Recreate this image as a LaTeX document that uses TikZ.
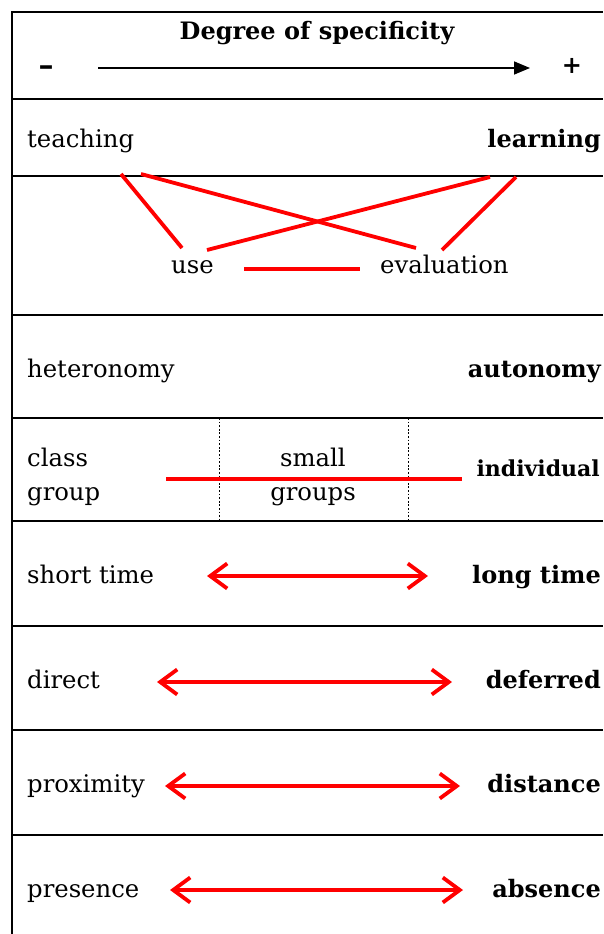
\documentclass[tikz,border=0pt]{standalone}
\usepackage{fontspec}
\setmainfont{DejaVu Serif}
\usetikzlibrary{arrows.meta}
\begin{document}
\begin{tikzpicture}[x=1pt,y=-1pt,
  frame/.style={line width=2pt, black},
  redline/.style={line width=3.8pt, red},
  dbl/.style={line width=3.8pt, red, {Straight Barb[length=17pt,width=25pt]}-{Straight Barb[length=17pt,width=25pt]}},
  lab/.style={inner sep=0pt, font=\fontsize{24.3}{28}\selectfont},
  blab/.style={inner sep=0pt, font=\fontsize{24}{28}\selectfont\bfseries},
  sblab/.style={inner sep=0pt, font=\fontsize{22}{26}\selectfont\bfseries},
  sep/.style={line width=0.8pt, dash pattern=on 1.8pt off 1.8pt},
]
\useasboundingbox (0,0) rectangle (603,934);
% frame
\draw[frame] (12,934) -- (12,12) -- (603,12);
\foreach \y in {99,176,315,418,521,626,730,835}
  \draw[frame] (12,\y) -- (603,\y);
% header
\node[blab, anchor=base] (title) at (317,40) {Degree of specificity};
\node[inner sep=0pt, font=\fontsize{30}{32}\selectfont\bfseries, anchor=base] (minus) at (46,76) {–};
\node[blab, anchor=base] (plus) at (572,74) {+};
\coordinate (a0) at (98,68);
\coordinate (a1) at (530,68);
\draw[line width=1.6pt, -{Triangle[length=16pt,width=13pt]}] (a0) -- (a1);
% row 1
\node[lab, anchor=base west] (teaching) at (27,147) {teaching};
\node[blab, anchor=base east] (learning) at (601,147) {learning};
% row 2
\node[lab, anchor=base west] (use) at (171,273) {use};
\node[lab, anchor=base west] (evaluation) at (380,273) {evaluation};
\coordinate (t1) at (121,174);
\coordinate (t2) at (141,174);
\coordinate (l1) at (490,177);
\coordinate (l2) at (516,177);
\coordinate (u1) at (182,248);
\coordinate (u2) at (207,250);
\coordinate (e1) at (416,248);
\coordinate (e2) at (442,250);
\coordinate (ue1) at (244,269);
\coordinate (ue2) at (360,269);
\draw[redline] (t1) -- (u1);
\draw[redline] (t2) -- (e1);
\draw[redline] (l1) -- (u2);
\draw[redline] (l2) -- (e2);
\draw[redline] (ue1) -- (ue2);
% row 3
\node[lab, anchor=base west] (heteronomy) at (27,377) {heteronomy};
\node[blab, anchor=base east] (autonomy) at (601,377) {autonomy};
% row 4
\node[lab, anchor=base west] (class) at (27,466) {class};
\node[lab, anchor=base west] (group) at (27,500) {group};
\node[lab, anchor=base] (small) at (313,466) {small};
\node[lab, anchor=base] (groups) at (313,500) {groups};
\node[sblab, anchor=base east] (individual) at (600,476) {individual};
\coordinate (d1t) at (219,418); \coordinate (d1b) at (219,521);
\coordinate (d2t) at (408,418); \coordinate (d2b) at (408,521);
\draw[sep] (d1t) -- (d1b);
\draw[sep] (d2t) -- (d2b);
\coordinate (g1) at (166,479); \coordinate (g2) at (462,479);
\draw[redline] (g1) -- (g2);
% row 5
\node[lab, anchor=base west] (short) at (27,583) {short time};
\node[blab, anchor=base east] (long) at (601,583) {long time};
\coordinate (s1) at (207,576); \coordinate (s2) at (428,576);
\draw[dbl] (s1) -- (s2);
% row 6
\node[lab, anchor=base west] (direct) at (27,688) {direct};
\node[blab, anchor=base east] (deferred) at (601,688) {deferred};
\coordinate (r1) at (157,682); \coordinate (r2) at (452,682);
\draw[dbl] (r1) -- (r2);
% row 7
\node[lab, anchor=base west] (proximity) at (27,792) {proximity};
\node[blab, anchor=base east] (distance) at (601,792) {distance};
\coordinate (p1) at (165,786); \coordinate (p2) at (460,786);
\draw[dbl] (p1) -- (p2);
% row 8
\node[lab, anchor=base west] (presence) at (27,897) {presence};
\node[blab, anchor=base east] (absence) at (601,897) {absence};
\coordinate (q1) at (170,890); \coordinate (q2) at (463,890);
\draw[dbl] (q1) -- (q2);
\end{tikzpicture}
\end{document}
